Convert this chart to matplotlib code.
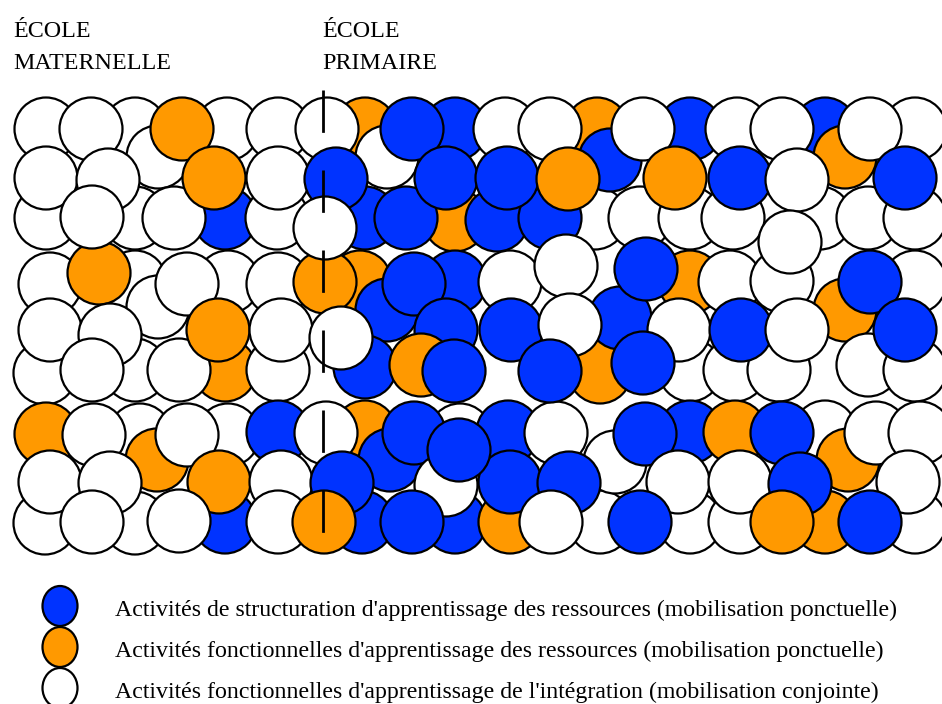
import matplotlib
matplotlib.use("Agg")
import matplotlib.pyplot as plt
from matplotlib.patches import Circle, Ellipse

plt.rcParams['font.family'] = ['Liberation Serif', 'DejaVu Serif']

# ---- data: circles (x, y in picture pixels), category and stacking layer ----
# categories: B = structuration (blue), O = fonctionnelles ressources (orange), W = intégration (white)
circle_x = [
    # band 1
    135, 227, 365, 455, 505, 597, 690, 737, 825, 915,
    135, 225, 365, 455, 497, 595, 640, 690, 820,
    158, 387, 610, 845,
    46, 174, 277, 406, 550, 733, 868, 915,
    46, 91, 182, 278, 327, 412, 550, 643, 782, 870,
    46, 108, 214, 278, 336, 446, 507, 568, 675, 740, 797, 905,
    92, 325, 790,
    # band 2
    135, 228, 360, 455, 690, 730, 915,
    135, 225, 600, 690, 735,
    158, 387, 620, 845,
    45, 179, 278, 365, 779, 868, 915,
    50, 99, 187, 278, 325, 414, 510, 566, 646, 782, 870,
    50, 110, 218, 281, 341, 446, 511, 570, 679, 741, 797, 905,
    92, 421, 454, 550, 643,
    # band 3
    140, 228, 365, 460, 508, 690, 735, 825,
    135, 225, 362, 455, 510, 600, 690, 740, 825, 915,
    157, 390, 615, 848,
    45,
    46, 94, 187, 278, 326, 414, 556, 645, 782, 876, 920,
    50, 110, 219, 281, 342, 446, 510, 569, 678, 740, 800, 908,
    92, 179, 278, 324, 412, 459, 551, 640, 782, 870,
]
circle_y = [
    129, 129, 129, 129, 129, 129, 129, 129, 129, 129,
    218, 218, 218, 220, 220, 218, 218, 218, 218,
    157, 157, 160, 157,
    218, 218, 218, 218, 218, 218, 218, 218,
    129, 129, 129, 129, 129, 129, 129, 129, 129, 129,
    178, 180, 178, 178, 179, 178, 178, 179, 178, 178, 180, 178,
    217, 228, 242,
    282, 282, 282, 282, 282, 282, 282,
    370, 370, 372, 370, 370,
    307, 310, 318, 310,
    373, 370, 370, 367, 370, 365, 370,
    284, 273, 284, 284, 282, 284, 282, 266, 269, 281, 282,
    330, 335, 330, 330, 338, 330, 330, 325, 330, 330, 330, 330,
    370, 365, 371, 371, 363,
    435, 435, 432, 435, 432, 432, 432, 432,
    523, 522, 522, 522, 522, 522, 522, 522, 522, 522,
    460, 460, 462, 460,
    523,
    434, 435, 435, 432, 433, 433, 433, 434, 433, 433, 433,
    482, 483, 482, 482, 483, 485, 482, 483, 482, 482, 484, 482,
    522, 521, 522, 522, 522, 450, 522, 522, 522, 522,
]
circle_kind = list(
    "WWOBWOBWBW" "WBBOBWWWW" "WWBO" "WWWBBWWW" "WWOWWBWWWW" "WWOWBBBOOBWB" "WWW"
    "WWOBOWW" "WOOWW" "WBBO" "WWWBWWW" "WOWWOBWWBWB" "WWOWWBBWWBWB" "WOBBB"
    "WWOWBBOW" "WBBBOWWWOW" "OBWO" "W" "OWWBWBWBBWW" "WWOWBWBBWWBW" "WWWOBBWBOB"
)
circle_layer = (
    [0] * 10 + [0] * 9 + [1] * 4 + [2] * 8 + [3] * 10 + [4] * 12 + [5] * 3
    + [0] * 7 + [0] * 5 + [1] * 4 + [2] * 7 + [3] * 11 + [4] * 12 + [5] * 5
    + [0] * 8 + [0] * 10 + [1] * 4 + [2] * 1 + [3] * 11 + [4] * 12 + [5] * 10
)

legend_kinds = ["B", "O", "W"]
legend_labels = [
    "Activités de structuration d'apprentissage des ressources (mobilisation ponctuelle)",
    "Activités fonctionnelles d'apprentissage des ressources (mobilisation ponctuelle)",
    "Activités fonctionnelles d'apprentissage de l'intégration (mobilisation conjointe)",
]
stage_labels = ["ÉCOLE\nMATERNELLE", "ÉCOLE\nPRIMAIRE"]

colors = {"B": "#0033ff", "O": "#ff9900", "W": "#ffffff"}

W, H = 942, 704
fig = plt.figure(figsize=(W / 100, H / 100), dpi=100)
ax = fig.add_axes([0, 0, 1, 1])
ax.set_xlim(0, W)
ax.set_ylim(H, 0)
ax.axis("off")

R = 31.5
order = sorted(range(len(circle_x)), key=lambda i: circle_layer[i])
for z, i in enumerate(order):
    ax.add_patch(Circle((circle_x[i], circle_y[i]), R,
                        facecolor=colors[circle_kind[i]], edgecolor="black",
                        linewidth=1.6, zorder=1 + z * 0.001))

# dashed separator between the two school stages
plt.rcParams['lines.scale_dashes'] = False
ax.vlines(323, 90, 533, colors="black", linewidth=2.0,
          linestyles=(0, (30.5, 27.1)), zorder=5)

# stage headings
for xh, lab in zip([13, 322], stage_labels):
    first, second = lab.split("\n")
    ax.text(xh, 37, first, fontsize=17.3, va="baseline", ha="left")
    ax.text(xh, 69, second, fontsize=17.3, va="baseline", ha="left")

# legend
for k, (kind, lab) in enumerate(zip(legend_kinds, legend_labels)):
    yc = 606 + 41 * k
    ax.add_patch(Ellipse((60, yc), 35, 40, facecolor=colors[kind],
                         edgecolor="black", linewidth=1.6, zorder=3))
    ax.text(115, yc + 10, lab, fontsize=17.2, va="baseline", ha="left")

fig.savefig("out.png", dpi=100)
